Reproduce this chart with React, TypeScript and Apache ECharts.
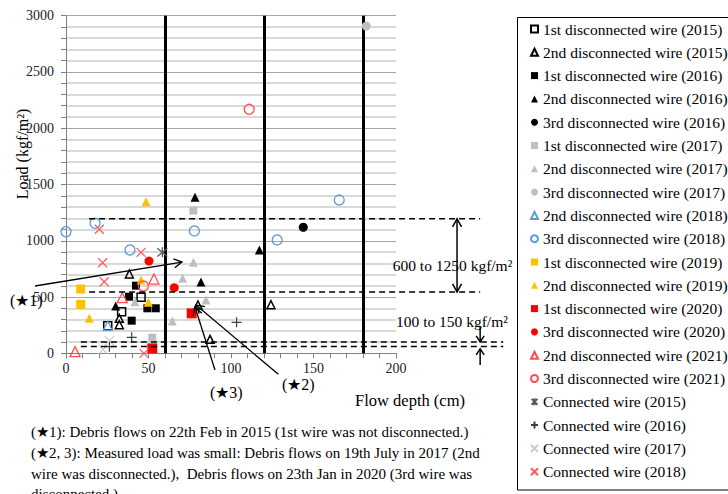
import React, { useEffect, useRef } from "react";
import * as echarts from "echarts";

const FONT = "Liberation Serif, serif";

// ---- data: [flow depth (cm), load (kgf/m2)] ----
const first2015 = [[45.5, 497], [33.7, 370], [25.3, 245]];
const second2015 = [[38.4, 705], [32.3, 311], [32.3, 254], [80, 429], [87.3, 124], [124.2, 432]];
const first2016 = [[42.4, 601], [38.2, 503], [49.3, 400], [54.4, 400], [39.8, 290]];
const second2016 = [[30.1, 420], [78.2, 1386], [81.8, 634], [117.2, 918]];
const third2016 = [[143.8, 1120]];
const first2017 = [[77.2, 1268], [52.3, 139]];
const second2017 = [[41.8, 459], [77.2, 808], [70.7, 666], [64.4, 287], [84.8, 474]];
const third2017 = [[182, 2908]];
const second2018 = [[25.3, 245]];
const third2018 = [[0, 1080], [17.6, 1155], [38.8, 918], [77.8, 1087], [128, 1007], [165.6, 1362]];
const first2019 = [[8.9, 571], [8.9, 435]];
const second2019 = [[48.5, 1347], [45.5, 651], [14.1, 311], [49.9, 453]];
const first2020 = [[76.2, 355], [52.3, 44]];
const third2020 = [[50.3, 820], [65.6, 583]];
const second2021 = [[5.5, 15], [34.1, 494], [53.3, 660]];
const third2021 = [[111, 2168], [46.9, 598]];
const conn2015 = [[58.4, 897]];
const conn2016 = [[26.3, 59], [39.8, 142], [103.4, 275]];
const conn2017 = [[26.3, 112], [22.4, 35]];
const conn2018 = [[20.2, 1102], [45.5, 897], [22.2, 805], [23.2, 636], [47.3, 0]];

const wireDepths = [60, 120, 180];
const upperRange = [1195, 545];
const lowerRange = [100, 60];
const rangeTexts = ["600 to 1250 kgf/m²", "100 to 150 kgf/m²"];
const footnotes = [
  "(★1): Debris flows on 22th Feb in 2015 (1st wire was not disconnected.)",
  "(★2, 3): Measured load was small: Debris flows on 19th July in 2017 (2nd",
  "wire was disconnected.),  Debris flows on 23th Jan in 2020 (3rd wire was",
  "disconnected.)",
];

const X_PATH = "path://M0,0L10,10M10,0L0,10";
const PLUS_PATH = "path://M5,0L5,10M0,5L10,5";
const AST_PATH = "path://M0,0L10,10M10,0L0,10M5,-1L5,11";

type S = [string, number[][], string, number, string, string, number];
const seriesDefs: S[] = [
  ["1st disconnected wire (2015)", first2015, "rect", 8, "transparent", "#000", 1.5],
  ["2nd disconnected wire (2015)", second2015, "triangle", 8, "transparent", "#000", 1.5],
  ["1st disconnected wire (2016)", first2016, "rect", 8, "#000", "#000", 0],
  ["2nd disconnected wire (2016)", second2016, "triangle", 9, "#000", "#000", 0],
  ["3rd disconnected wire (2016)", third2016, "circle", 9, "#000", "#000", 0],
  ["1st disconnected wire (2017)", first2017, "rect", 8, "#bfbfbf", "#bfbfbf", 0],
  ["2nd disconnected wire (2017)", second2017, "triangle", 9, "#bfbfbf", "#bfbfbf", 0],
  ["3rd disconnected wire (2017)", third2017, "circle", 9, "#bfbfbf", "#bfbfbf", 0],
  ["2nd disconnected wire (2018)", second2018, "triangle", 9, "transparent", "#5b9bd5", 1.3],
  ["3rd disconnected wire (2018)", third2018, "circle", 10, "transparent", "#5b9bd5", 1.3],
  ["1st disconnected wire (2019)", first2019, "rect", 9, "#ffc000", "#ffc000", 0],
  ["2nd disconnected wire (2019)", second2019, "triangle", 9, "#ffc000", "#ffc000", 0],
  ["1st disconnected wire (2020)", first2020, "rect", 10, "#ff0000", "#ff0000", 0],
  ["3rd disconnected wire (2020)", third2020, "circle", 9, "#ff0000", "#ff0000", 0],
  ["2nd disconnected wire (2021)", second2021, "triangle", 10, "transparent", "#ff4d4d", 1.3],
  ["3rd disconnected wire (2021)", third2021, "circle", 10, "transparent", "#ff4d4d", 1.3],
  ["Connected wire (2015)", conn2015, AST_PATH, 10, "transparent", "#595959", 1.3],
  ["Connected wire (2016)", conn2016, PLUS_PATH, 10, "transparent", "#404040", 1.2],
  ["Connected wire (2017)", conn2017, X_PATH, 9, "transparent", "#c8c8c8", 1.2],
  ["Connected wire (2018)", conn2018, X_PATH, 9, "transparent", "#ff5a5a", 1.2],
];

function head(tip: number[], from: number[], len = 8, half = 4.5) {
  const dx = tip[0] - from[0];
  const dy = tip[1] - from[1];
  const l = Math.hypot(dx, dy) || 1;
  const ux = dx / l, uy = dy / l;
  const nx = -uy, ny = ux;
  return [
    [tip[0] - ux * len + nx * half, tip[1] - uy * len + ny * half],
    [tip[0], tip[1]],
    [tip[0] - ux * len - nx * half, tip[1] - uy * len - ny * half],
  ];
}

export default function App() {
  const ref = useRef<HTMLDivElement>(null);
  useEffect(() => {
    const chart = echarts.init(ref.current!, null, { renderer: "svg" });
    const series: any[] = seriesDefs.map(([name, data, symbol, size, fill, stroke, bw], i) => ({
      name,
      type: "scatter",
      data,
      symbol,
      symbolSize: size,
      itemStyle: { color: fill, borderColor: stroke, borderWidth: bw, opacity: 1 },
      z: 3,
      ...(i === 0
        ? {
            markLine: {
              silent: true,
              symbol: ["none", "none"],
              label: { show: false },
              lineStyle: { color: "#000", width: 3, type: "solid" },
              data: wireDepths.map((x) => ({ xAxis: x })),
              z: 2,
            },
          }
        : {}),
    }));

    chart.setOption({
      animation: false,
      textStyle: { fontFamily: FONT },
      grid: { left: 66, right: 332, top: 15.7, bottom: 140.7 },
      xAxis: {
        type: "value",
        min: 0,
        max: 200,
        interval: 50,
        axisLine: { lineStyle: { color: "#808080", width: 1 } },
        axisTick: { show: true, length: 5, lineStyle: { color: "#808080" } },
        minorTick: { show: true, splitNumber: 5, length: 5, lineStyle: { color: "#808080" } },
        splitLine: { show: false },
        axisLabel: { fontFamily: FONT, fontSize: 14, color: "#222", margin: 8 },
      },
      yAxis: {
        type: "value",
        min: 0,
        max: 3000,
        interval: 500,
        axisLine: { show: true, lineStyle: { color: "#808080", width: 1 } },
        axisTick: { show: true, length: 5, lineStyle: { color: "#808080" } },
        minorTick: { show: true, splitNumber: 5, length: 5, lineStyle: { color: "#808080" } },
        splitLine: { show: true, lineStyle: { color: "#a6a6a6", width: 1 } },
        minorSplitLine: { show: true, lineStyle: { color: "#d9d9d9", width: 2 } },
        axisLabel: { fontFamily: FONT, fontSize: 14, color: "#222", margin: 12, formatter: (v: number) => String(v) },
      },
      legend: {
        orient: "vertical",
        left: 525,
        top: 16,
        itemWidth: 7,
        itemHeight: 7,
        itemGap: 7.3,
        textStyle: { fontFamily: FONT, fontSize: 15.5, color: "#000", lineHeight: 16 },
        data: seriesDefs.map((d) => d[0]),
      },
      series,
    });

    const p = (x: number, y: number) => chart.convertToPixel({ gridIndex: 0 }, [x, y]) as number[];
    const g: any[] = [];
    const dashStyle = { stroke: "#000", lineWidth: 1.5, lineDash: [6, 4] };
    const blk = { stroke: "#000", lineWidth: 1.5, fill: "none" };

    upperRange.forEach((v) => {
      const a = p(14, v), b = p(251, v);
      g.push({ type: "line", z: 50, shape: { x1: a[0], y1: a[1], x2: b[0], y2: b[1] }, style: dashStyle });
    });
    lowerRange.forEach((v) => {
      const a = p(9, v), b = p(265, v);
      g.push({ type: "line", z: 50, shape: { x1: a[0], y1: a[1], x2: b[0], y2: b[1] }, style: dashStyle });
    });

    // double arrow between upper range lines
    const t1 = p(237, upperRange[0]), t2 = p(237, upperRange[1]);
    g.push({ type: "line", z: 50, shape: { x1: t1[0], y1: t1[1], x2: t2[0], y2: t2[1] }, style: blk });
    g.push({ type: "polyline", z: 50, shape: { points: head(t1, t2, 8, 4.5) }, style: blk });
    g.push({ type: "polyline", z: 50, shape: { points: head(t2, t1, 8, 4.5) }, style: blk });

    // small arrows pointing at lower range lines
    const d1 = p(251, 236), d2 = p(251, lowerRange[0] + 2);
    g.push({ type: "line", z: 50, shape: { x1: d1[0], y1: d1[1], x2: d2[0], y2: d2[1] }, style: blk });
    g.push({ type: "polyline", z: 50, shape: { points: head(d2, d1, 6, 4) }, style: blk });
    const u1 = p(251, -104), u2 = p(251, lowerRange[1] - 20);
    g.push({ type: "line", z: 50, shape: { x1: u1[0], y1: u1[1], x2: u2[0], y2: u2[1] }, style: blk });
    g.push({ type: "polyline", z: 50, shape: { points: head(u2, u1, 6, 4) }, style: blk });

    const rt1 = p(198, 780), rt2 = p(200, 287);
    g.push({ type: "text", z: 49, x: rt1[0], y: rt1[1], style: { text: rangeTexts[0], fontFamily: FONT, fontSize: 15.5, fill: "#000", verticalAlign: "middle" } });
    g.push({ type: "text", z: 49, x: rt2[0], y: rt2[1], style: { text: rangeTexts[1], fontFamily: FONT, fontSize: 15.5, fill: "#000", verticalAlign: "middle" } });

    // star annotations
    const arrows = [
      [[-18.8, 598], [70.3, 811]],
      [[128.7, -187], [78.8, 429]],
      [[90.3, -148], [78.2, 411]],
    ];
    arrows.forEach(([from, to]) => {
      const a = p(from[0], from[1]), b = p(to[0], to[1]);
      g.push({ type: "line", z: 50, shape: { x1: a[0], y1: a[1], x2: b[0], y2: b[1] }, style: { stroke: "#000", lineWidth: 1.3 } });
      g.push({ type: "polyline", z: 50, shape: { points: head(b, a, 8, 4.5) }, style: { stroke: "#000", lineWidth: 1.3, fill: "none" } });
    });
    const starStyle = { fontFamily: FONT, fontSize: 16, fill: "#000", verticalAlign: "middle" };
    g.push({ type: "text", z: 51, x: 10, y: 300, style: { ...starStyle, text: "(★1)" } });
    g.push({ type: "text", z: 51, x: 282, y: 384, style: { ...starStyle, text: "(★2)" } });
    g.push({ type: "text", z: 51, x: 210, y: 392, style: { ...starStyle, text: "(★3)" } });

    // axis titles
    g.push({ type: "text", z: 51, x: 22, y: 154, rotation: Math.PI / 2, style: { text: "Load (kgf/m²)", fontFamily: FONT, fontSize: 16, fill: "#000", align: "center", verticalAlign: "middle" } });
    g.push({ type: "text", z: 51, x: 355, y: 400, style: { text: "Flow depth (cm)", fontFamily: FONT, fontSize: 16.5, fill: "#000", verticalAlign: "middle" } });

    // footnotes
    footnotes.forEach((t, i) => {
      g.push({ type: "text", z: 51, x: 31, y: 432 + i * 20.8, style: { text: t, fontFamily: FONT, fontSize: 15, fill: "#000", verticalAlign: "middle" } });
    });

    // legend box
    g.push({ type: "rect", z: 40, shape: { x: 517.5, y: 17.5, width: 220, height: 472.5 }, style: { stroke: "#000", lineWidth: 1, fill: "none" } });

    chart.setOption({ graphic: g });
    return () => chart.dispose();
  }, []);
  return <div ref={ref} style={{ position: "absolute", left: 0, top: 0, width: 728, height: 494 }} />;
}
